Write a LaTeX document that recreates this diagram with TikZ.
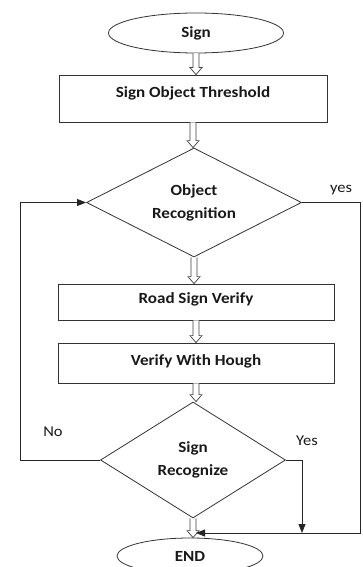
\documentclass[tikz,border=0pt]{standalone}
\usepackage{fontspec}
\setmainfont{Carlito}[FakeStretch=1.1]
\usetikzlibrary{shapes.geometric,arrows.meta,calc}
\newcommand\hollowarrow[2]{%
  \draw[hollow] let \p1=(#1), \p2=(#2) in
    (\x1-3pt,\y1) -- (\x1-3pt,\y2+7pt) -- (\x1-6pt,\y2+7pt) -- (\x1,\y2)
    -- (\x1+6pt,\y2+7pt) -- (\x1+3pt,\y2+7pt) -- (\x1+3pt,\y1);}
\begin{document}
\begin{tikzpicture}[x=1pt,y=-1pt]
\tikzset{
 base/.style={draw=black!80, line width=0.8pt, font=\bfseries\fontsize{15.5}{23}\selectfont, text=black!90},
 term/.style={base, ellipse, inner sep=0pt},
 proc/.style={base, rectangle, inner sep=0pt},
 dec/.style={base, diamond, aspect=2, inner sep=0pt, align=center},
 hollow/.style={draw=black!75, line width=0.7pt, fill=white},
 conn/.style={draw=black!85, line width=0.8pt, -{Triangle[length=9pt,width=7pt]}},
 lbl/.style={font=\fontsize{15}{18}\selectfont, text=black!90},
}
\useasboundingbox (0,0) rectangle (363,567);
\node[term, minimum width=175pt, minimum height=40pt] (sign) at (196,33) {Sign};
\node[proc, minimum width=268pt, minimum height=47pt, text height=10pt, text depth=12pt] (sot) at (193,98.5) {Sign Object Threshold};
\node[dec, minimum width=215pt, minimum height=109pt] (d1) at (194,202.5) {Object\\Recognition};
\node[proc, minimum width=276pt, minimum height=36pt, text height=12pt, text depth=10pt] (rsv) at (196,302) {Road Sign Verify};
\node[proc, minimum width=276pt, minimum height=40pt, text height=12pt, text depth=8pt] (vwh) at (196,363) {Verify With Hough};
\node[dec, minimum width=185pt, minimum height=116pt] (d2) at (193,460) {Sign\\Recognize};
\node[term, minimum width=146pt, minimum height=36pt] (end) at (190,556) {END};

\hollowarrow{sign.south}{sot.north}
\hollowarrow{sot.south}{d1.north}
\hollowarrow{d1.south}{rsv.north}
\hollowarrow{rsv.south}{vwh.north}
\hollowarrow{vwh.south}{d2.north}
\hollowarrow{d2.south}{end.north}

\coordinate (nl) at (20,0);
\coordinate (yr) at (360,533);
\coordinate (yx) at (302,533);
\coordinate (join) at ($(d2.south |- yr)+(3,0)$);

\draw[conn] (d2.west) -- (d2.west -| nl) -- (d1.west -| nl) -- (d1.west);
\draw[conn] (d1.east) -- (d1.east -| yr) -- (yr) -- (join);
\draw[conn] (d2.east) -- (d2.east -| yx) -- (yx);

\node[lbl] (lyes) at (341,190) {yes};
\node[lbl] (lno) at (53,432) {No};
\node[lbl] (lYes) at (307,441) {Yes};
\end{tikzpicture}
\end{document}
